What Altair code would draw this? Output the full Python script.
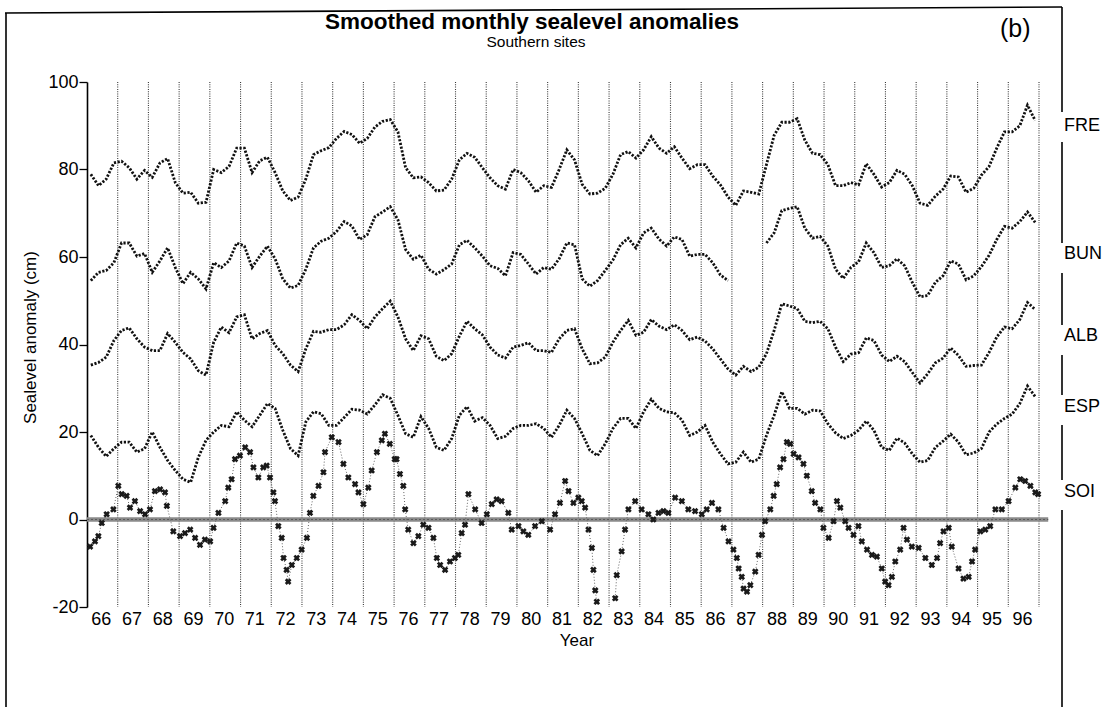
import altair as alt
import pandas as pd

FONT = "Liberation Sans"

# ---------------- data ----------------
START_YEAR = 1966  # quarterly values start at 1966 Q1 (mid-quarter positions)

fre = [78.9, 76.3, 77.8, 81.5, 81.9, 80.4, 77.8, 79.8, 78.2, 81.5, 82.5, 77.0,
       74.6, 74.8, 72.3, 72.5, 80.0, 79.3, 80.7, 84.9, 84.9, 79.3, 82.0, 82.8,
       79.3, 75.1, 72.9, 73.7, 77.8, 83.4, 84.3, 85.0, 87.1, 88.7, 88.0, 86.0,
       87.1, 89.7, 91.0, 91.4, 88.6, 80.4, 78.1, 78.3, 77.0, 75.1, 75.3, 77.8,
       82.2, 83.7, 82.8, 80.4, 78.1, 76.3, 75.5, 80.0, 79.3, 77.4, 74.8, 76.3,
       75.9, 80.0, 84.5, 82.2, 76.6, 74.4, 74.6, 75.7, 78.9, 83.4, 84.1, 82.6,
       84.5, 87.5, 84.9, 83.7, 85.2, 82.6, 80.2, 81.1, 81.1, 78.5, 76.5, 73.7,
       71.8, 75.1, 74.8, 74.4, 81.1, 87.8, 90.8, 90.8, 91.6, 86.7, 83.7, 83.4,
       81.1, 76.3, 76.3, 77.0, 76.5, 81.3, 78.9, 76.0, 77.0, 79.8, 78.9, 76.3,
       72.3, 71.8, 73.9, 75.5, 78.5, 78.3, 74.8, 75.7, 78.7, 80.7, 84.9, 88.6,
       88.6, 90.0, 94.7, 91.2]

bun = [54.6, 56.5, 56.9, 58.7, 63.2, 63.2, 60.2, 60.8, 56.5, 59.1, 62.1, 57.6,
       53.9, 56.5, 55.0, 52.7, 58.7, 57.6, 59.1, 63.2, 62.5, 57.6, 60.2, 62.5,
       59.6, 55.0, 52.9, 53.5, 57.2, 62.1, 63.6, 64.3, 65.8, 68.1, 67.1, 64.0,
       65.1, 69.2, 70.3, 71.5, 68.5, 61.7, 59.5, 60.4, 57.2, 56.1, 57.1, 58.4,
       62.8, 63.8, 62.1, 60.2, 58.0, 57.4, 55.7, 61.0, 60.6, 58.4, 56.1, 57.6,
       57.2, 59.6, 63.2, 62.8, 55.0, 53.3, 54.6, 56.9, 59.3, 62.8, 64.3, 62.1,
       65.5, 66.6, 64.1, 62.5, 64.6, 64.0, 60.2, 60.6, 60.6, 58.7, 55.9, 54.6,
       None, None, None, None, 63.2, 65.5, 70.6, 71.1, 71.5, 66.6, 64.3, 64.7,
       62.5, 57.2, 55.1, 57.6, 58.9, 63.2, 61.0, 57.6, 58.0, 59.6, 58.0, 54.2,
       50.9, 51.2, 54.2, 55.7, 59.1, 58.4, 54.8, 55.7, 57.8, 60.4, 64.0, 67.0,
       66.6, 68.1, 70.3, 67.9]

alb = [35.3, 35.9, 37.1, 40.9, 43.2, 43.8, 41.3, 39.4, 38.6, 38.6, 42.5, 40.5,
       38.2, 36.7, 34.0, 33.0, 40.5, 44.0, 42.7, 46.3, 46.8, 41.3, 42.5, 43.2,
       39.8, 37.9, 35.3, 33.8, 39.0, 43.0, 42.8, 43.4, 43.4, 44.5, 46.8, 45.5,
       43.6, 46.3, 48.2, 49.9, 46.3, 41.3, 38.6, 42.0, 41.3, 37.3, 36.3, 37.9,
       41.9, 45.3, 43.6, 42.2, 39.4, 37.6, 36.9, 39.4, 39.8, 40.4, 38.6, 38.6,
       38.2, 41.3, 43.2, 43.6, 39.0, 35.6, 35.8, 37.1, 40.5, 43.2, 45.5, 42.1,
       42.8, 45.7, 44.2, 43.4, 44.5, 43.2, 41.1, 41.7, 40.8, 39.0, 36.7, 34.4,
       33.0, 35.0, 33.8, 34.8, 37.9, 43.2, 49.3, 48.8, 48.2, 45.3, 45.0, 45.3,
       43.6, 39.4, 36.1, 37.8, 38.1, 41.5, 40.9, 37.6, 36.1, 37.3, 36.1, 33.6,
       31.2, 33.3, 35.8, 36.9, 39.2, 37.5, 35.0, 35.2, 35.3, 38.2, 41.7, 44.0,
       43.6, 45.7, 49.6, 48.0]

esp = [19.2, 16.5, 14.4, 16.2, 17.7, 17.7, 15.4, 16.2, 20.0, 16.5, 13.5, 11.2,
       9.2, 8.5, 14.2, 18.1, 20.0, 21.5, 21.2, 24.6, 22.7, 21.2, 23.8, 26.5,
       25.4, 20.4, 16.2, 14.6, 22.3, 24.6, 24.2, 21.5, 21.5, 23.3, 25.2, 25.0,
       24.1, 26.2, 28.5, 27.7, 23.8, 19.6, 18.8, 23.5, 20.8, 16.5, 15.8, 18.5,
       23.8, 25.8, 22.5, 23.3, 21.5, 18.5, 19.0, 20.8, 21.5, 21.5, 21.9, 20.8,
       18.8, 21.5, 25.0, 23.1, 19.6, 15.8, 14.6, 17.3, 20.8, 23.1, 23.1, 20.8,
       24.6, 27.5, 25.4, 24.6, 24.4, 22.7, 19.2, 20.0, 21.5, 17.7, 15.0, 12.7,
       13.1, 15.4, 13.1, 13.8, 19.2, 23.8, 29.2, 25.4, 25.4, 24.1, 25.0, 24.8,
       21.9, 19.8, 18.5, 19.2, 20.4, 22.5, 20.4, 16.5, 15.8, 18.6, 17.5, 15.0,
       13.1, 13.5, 16.5, 17.9, 19.5, 17.7, 14.8, 15.2, 16.2, 20.0, 21.8, 23.1,
       24.1, 26.5, 30.5, 28.1]

soi_t = [1966.10, 1966.26, 1966.37, 1966.48, 1966.64, 1966.86, 1967.02, 1967.13, 1967.29, 1967.40,
         1967.56, 1967.73, 1967.89, 1968.05, 1968.21, 1968.38, 1968.54, 1968.60, 1968.81, 1969.03,
         1969.19, 1969.36, 1969.52, 1969.68, 1969.84, 1970.01, 1970.12, 1970.28, 1970.50, 1970.60,
         1970.71, 1970.82, 1970.98, 1971.15, 1971.31, 1971.42, 1971.58, 1971.74, 1971.85, 1971.96,
         1972.07, 1972.12, 1972.23, 1972.34, 1972.40, 1972.50, 1972.55, 1972.67, 1972.83, 1972.99,
         1973.16, 1973.26, 1973.37, 1973.54, 1973.70, 1973.75, 1973.97, 1974.19, 1974.35, 1974.51,
         1974.73, 1974.84, 1975.00, 1975.16, 1975.27, 1975.44, 1975.60, 1975.70, 1975.86, 1976.02,
         1976.08, 1976.19, 1976.30, 1976.36, 1976.46, 1976.63, 1976.79, 1976.95, 1977.12, 1977.28,
         1977.39, 1977.50, 1977.66, 1977.82, 1977.98, 1978.09, 1978.20, 1978.31, 1978.42, 1978.64,
         1978.85, 1979.02, 1979.18, 1979.34, 1979.50, 1979.72, 1979.83, 1980.05, 1980.21, 1980.37,
         1980.59, 1980.81, 1981.08, 1981.24, 1981.40, 1981.57, 1981.68, 1981.84, 1982.00, 1982.11,
         1982.22, 1982.33, 1982.44, 1982.49, 1982.55, 1982.60, 1982.90, 1983.20, 1983.25, 1983.41,
         1983.52, 1983.63, 1983.85, 1984.06, 1984.28, 1984.44, 1984.61, 1984.77, 1984.93, 1985.15,
         1985.37, 1985.58, 1985.80, 1986.02, 1986.18, 1986.35, 1986.56, 1986.73, 1986.89, 1987.05,
         1987.16, 1987.22, 1987.32, 1987.38, 1987.49, 1987.60, 1987.76, 1987.87, 1987.98, 1988.08,
         1988.25, 1988.36, 1988.46, 1988.57, 1988.68, 1988.79, 1988.90, 1989.01, 1989.17, 1989.33,
         1989.44, 1989.60, 1989.71, 1989.88, 1989.98, 1990.15, 1990.31, 1990.42, 1990.53, 1990.69,
         1990.80, 1990.96, 1991.12, 1991.23, 1991.40, 1991.56, 1991.72, 1991.88, 1991.99, 1992.10,
         1992.21, 1992.32, 1992.48, 1992.59, 1992.70, 1992.86, 1993.08, 1993.30, 1993.51, 1993.68,
         1993.78, 1993.89, 1994.06, 1994.16, 1994.38, 1994.54, 1994.71, 1994.82, 1994.92, 1995.09,
         1995.25, 1995.41, 1995.58, 1995.79, 1996.01, 1996.23, 1996.39, 1996.55, 1996.72, 1996.88,
         1996.97]

soi_v = [-6.2, -5.0, -3.8, -0.8, 1.2, 2.3, 7.7, 5.8, 5.4, 2.7,
         4.2, 1.9, 1.2, 2.3, 6.5, 6.9, 6.2, 3.1, -2.7, -3.8,
         -3.1, -2.3, -4.2, -5.8, -4.6, -5.0, -1.9, 1.5, 4.2, 7.3,
         9.2, 13.8, 14.6, 16.5, 15.4, 11.9, 9.6, 11.9, 12.3, 9.6,
         6.2, 4.2, -1.5, -4.2, -8.8, -11.5, -14.2, -10.4, -8.8, -6.9,
         -4.2, 1.5, 5.4, 7.7, 10.8, 15.4, 18.8, 17.7, 12.7, 9.6,
         8.1, 6.2, 3.5, 7.3, 11.2, 15.4, 18.1, 19.6, 17.3, 13.8,
         13.8, 10.4, 7.7, 2.3, -2.3, -5.4, -3.8, -1.2, -1.9, -4.2,
         -8.8, -10.4, -11.5, -9.6, -8.8, -8.1, -3.1, -1.2, 5.8, 2.3,
         -0.8, 1.2, 3.5, 4.6, 4.2, 1.5, -2.3, -1.5, -2.7, -3.5,
         -1.5, -0.4, -2.3, 1.2, 3.8, 8.8, 6.5, 3.8, 5.0, 4.2,
         2.7, -2.3, -6.5, -11.5, -16.2, -18.8, None, -18.0, -12.7, -7.3,
         -2.3, 2.3, 4.2, 2.3, 1.2, 0.0, 1.5, 1.9, 1.5, 5.0,
         4.2, 2.3, 1.9, 1.2, 2.3, 3.8, 2.3, -1.9, -5.0, -6.9,
         -8.8, -11.2, -13.1, -15.8, -16.5, -15.0, -11.9, -8.1, -3.5, -0.4,
         2.3, 5.4, 8.1, 11.9, 13.8, 17.7, 17.3, 15.0, 14.2, 12.7,
         10.0, 6.5, 3.8, 2.3, -1.9, -4.2, -0.4, 4.2, 2.7, -0.4,
         -1.9, -3.5, -1.5, -5.0, -6.9, -8.1, -8.5, -11.2, -14.2, -15.0,
         -13.1, -9.6, -6.9, -1.9, -4.6, -6.2, -6.5, -8.8, -10.4, -8.8,
         -5.4, -2.7, -1.9, -6.2, -11.2, -13.5, -13.1, -9.6, -6.9, -2.7,
         -2.3, -1.5, 2.3, 2.3, 4.2, 7.3, 9.2, 8.8, 7.7, 6.2,
         5.8]

year_ticks = [y + 0.45 for y in range(1966, 1997)]   # label positions (mid-year)
grid_years = list(range(1967, 1998))                  # dotted year boundaries
y_ticks = [-20, 0, 20, 40, 60, 80, 100]
series_names = ["FRE", "BUN", "ALB", "ESP", "SOI"]
series_label_y = [90.0, 60.6, 42.0, 25.8, 6.2]

title_text = "Smoothed monthly sealevel anomalies"
subtitle_text = "Southern sites"
panel_text = "(b)"
x_title = "Year"
y_title = "Sealevel anomaly (cm)"

# ---------------- tables ----------------
def quarterly(name, vals):
    rows, seg = [], 0
    for i, v in enumerate(vals):
        if v is None:
            seg += 1
            continue
        rows.append({"t": START_YEAR + (i + 0.5) / 4, "v": v, "key": f"{name}{seg}"})
    return rows

rows = []
for nm, vals in zip(["FRE", "BUN", "ALB", "ESP"], [fre, bun, alb, esp]):
    rows += quarterly(nm, vals)
df_sl = pd.DataFrame(rows)

soi_rows, seg = [], 0
for t, v in zip(soi_t, soi_v):
    if v is None:
        seg += 1
        continue
    soi_rows.append({"t": t, "v": v, "key": f"SOI{seg}"})
df_soi = pd.DataFrame(soi_rows)

df_grid = pd.DataFrame({"t": grid_years, "top": 100, "bot": -20})
df_zero = pd.DataFrame({"t": [1966.0], "t2": [1997.3], "v": [0]})
df_lab = pd.DataFrame({"name": series_names, "ly": series_label_y})
one = pd.DataFrame({"a": [0]})

W, H = 952, 525
xs = alt.Scale(domain=[1966, 1997], nice=False, zero=False)
ys = alt.Scale(domain=[-20, 100], nice=False, zero=False)

x_axis = alt.Axis(values=year_ticks, labelExpr="'' + (floor(datum.value) - 1900)",
                  ticks=False, domain=False, grid=False, labelFont=FONT, labelFontSize=18,
                  labelColor="black", labelPadding=3, labelFlush=False, labelOverlap=False,
                  title=None)
y_axis = alt.Axis(values=y_ticks, labelExpr="'' + datum.value", tickSize=8, tickColor="black",
                  tickWidth=1.3, domainColor="black", domainWidth=1.6, grid=False,
                  labelFont=FONT, labelFontSize=18, labelColor="black", labelPadding=1,
                  title=y_title, titleFont=FONT, titleFontSize=17, titleFontWeight="normal",
                  titleColor="black", titleX=-57, titleY=255, titleAngle=-90,
                  titleBaseline="middle", titleAlign="center")

def X(f):
    return alt.X(f, type="quantitative", scale=xs, axis=x_axis)

def Y(f):
    return alt.Y(f, type="quantitative", scale=ys, axis=y_axis)

grid = alt.Chart(df_grid).mark_rule(color="#3a3a3a", strokeWidth=1.1, strokeDash=[1, 1.3]).encode(
    x=X("t"), y=Y("top"), y2="bot")

zero = alt.Chart(df_zero).mark_rule(color="#8a8a8a", strokeWidth=4.5).encode(
    x=X("t"), x2="t2", y=Y("v"))
zero2 = alt.Chart(df_zero).mark_rule(color="#5a5a5a", strokeWidth=1.2, strokeDash=[2, 2]).encode(
    x=X("t"), x2="t2", y=Y("v"))

lines = alt.Chart(df_sl).mark_line(color="#111111", strokeWidth=2.8, strokeDash=[2.2, 1.6],
                                   strokeCap="butt").encode(
    x=X("t"), y=Y("v"), detail="key:N", order="t:Q")

soi_line = alt.Chart(df_soi).mark_line(color="#666666", strokeWidth=1, strokeDash=[1, 2]).encode(
    x=X("t"), y=Y("v"), detail="key:N", order="t:Q")
soi_pts = alt.Chart(df_soi).mark_point(shape="cross", angle=45, size=45, filled=True,
                                       color="#1a1a1a", opacity=1).encode(x=X("t"), y=Y("v"))

labels = alt.Chart(df_lab).mark_text(align="left", baseline="middle", font=FONT, fontSize=18,
                                     color="black").encode(
    x=alt.value(977), y=Y("ly"), text="name:N")

def txt(s, x, y, size, weight="normal", align="center", baseline="alphabetic"):
    return alt.Chart(pd.DataFrame({"s": [s]})).mark_text(
        align=align, baseline=baseline, font=FONT, fontSize=size, fontWeight=weight,
        color="black").encode(x=alt.value(x), y=alt.value(y), text="s:N")

t_title = txt(title_text, 445, -53, 22.5, weight="bold")
t_sub = txt(subtitle_text, 449, -35, 15.5)
t_panel = txt(panel_text, 913, -45, 25, align="left")
t_xt = txt(x_title, 490, 564, 17)

def seg(x1, y1, x2, y2, w=1.6):
    return alt.Chart(one).mark_rule(color="black", strokeWidth=w).encode(
        x=alt.value(x1), y=alt.value(y1), x2=alt.value(x2), y2=alt.value(y2))

frame = [
    seg(-82, -69, 975, -75),
    seg(-81, -69, -81, 625),
    seg(975, -75, 975, 30),
    seg(975, 60, 975, 161),
    seg(975, 191, 975, 243),
    seg(975, 273, 975, 313),
    seg(975, 343, 975, 398),
    seg(975, 428, 975, 625),
]

chart = alt.layer(
    grid, zero, zero2, lines, soi_line, soi_pts, labels,
    t_title, t_sub, t_panel, t_xt, *frame
).properties(
    width=W, height=H,
    padding={"left": 87, "top": 82, "right": 67, "bottom": 100},
    autosize=alt.AutoSizeParams(type="none"),
    background="white",
).configure_view(stroke=None)

chart.save("out.html", embed_options={"renderer": "svg", "actions": False})
